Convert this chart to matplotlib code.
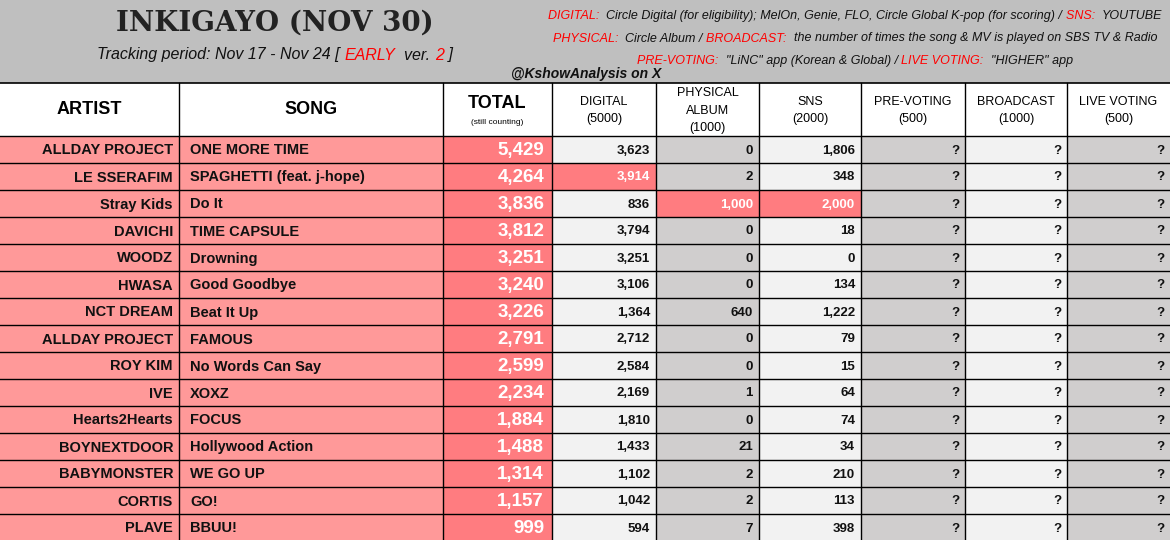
import matplotlib
matplotlib.use("Agg")
import matplotlib.pyplot as plt
from matplotlib.patches import Rectangle

artists = ["ALLDAY PROJECT", "LE SSERAFIM", "Stray Kids", "DAVICHI", "WOODZ", "HWASA",
           "NCT DREAM", "ALLDAY PROJECT", "ROY KIM", "IVE", "Hearts2Hearts", "BOYNEXTDOOR",
           "BABYMONSTER", "CORTIS", "PLAVE"]
songs = ["ONE MORE TIME", "SPAGHETTI (feat. j-hope)", "Do It", "TIME CAPSULE", "Drowning",
         "Good Goodbye", "Beat It Up", "FAMOUS", "No Words Can Say", "XOXZ", "FOCUS",
         "Hollywood Action", "WE GO UP", "GO!", "BBUU!"]
total = [5429, 4264, 3836, 3812, 3251, 3240, 3226, 2791, 2599, 2234, 1884, 1488, 1314, 1157, 999]
digital = [3623, 3914, 836, 3794, 3251, 3106, 1364, 2712, 2584, 2169, 1810, 1433, 1102, 1042, 594]
physical = [0, 2, 1000, 0, 0, 0, 640, 0, 0, 1, 0, 21, 2, 2, 7]
sns = [1806, 348, 2000, 18, 0, 134, 1222, 79, 15, 64, 74, 34, 210, 113, 398]
# cells that got the max score for the category (highlighted)
highlight = {(1, "digital"), (2, "physical"), (2, "sns")}

cols = [0, 179, 443, 552, 656, 759, 861, 965, 1067, 1170]
top, hh, rh = 83, 53, 27

fig = plt.figure(figsize=(11.7, 5.4), dpi=100)
ax = fig.add_axes([0, 0, 1, 1])
ax.set_xlim(0, 1170)
ax.set_ylim(540, 0)
ax.axis("off")
fig.patch.set_facecolor("#BFBFBF")

FONT = "Liberation Sans"
RED = "#FF0000"
BLK = "#111111"
PINK = "#FF9999"
DPINK = "#FF7C80"
LG = "#F2F2F2"
DG = "#D0CECE"

fig.canvas.draw()
rend = fig.canvas.get_renderer()
inv = ax.transData.inverted()


def chain(parts, cx, y, size, **kw):
    objs = [ax.text(0, y, s, fontsize=size, style="italic", fontfamily=FONT,
                    ha="left", va="center", color=c, **kw) for s, c in parts]
    widths = []
    for o in objs:
        bb = o.get_window_extent(rend)
        widths.append(inv.transform((bb.x1, 0))[0] - inv.transform((bb.x0, 0))[0])
    x = cx - sum(widths) / 2
    for o, w in zip(objs, widths):
        o.set_x(x)
        x += w


# title area
ax.text(275, 23, "INKIGAYO (NOV 30)", fontsize=20, fontfamily="DejaVu Serif",
        fontweight="bold", ha="center", va="center", color="#222222")
chain([("Tracking period: Nov 17 - Nov 24 [ ", BLK), ("EARLY", RED), ("  ver. ", BLK),
       ("2", RED), (" ]", BLK)], 275, 55, 11.5)
ax.text(511, 74, "@KshowAnalysis on X", fontsize=10, style="italic", fontweight="bold",
        fontfamily=FONT, ha="left", va="center", color=BLK)

info = [
    [("DIGITAL:  ", RED), ("Circle Digital (for eligibility); MelOn, Genie, FLO, Circle Global K-pop (for scoring) / ", BLK),
     ("SNS:  ", RED), ("YOUTUBE", BLK)],
    [("PHYSICAL:  ", RED), ("Circle Album / ", BLK), ("BROADCAST:  ", RED),
     ("the number of times the song & MV is played on SBS TV & Radio", BLK)],
    [("PRE-VOTING:  ", RED), ('"LiNC" app (Korean & Global) / ', BLK), ("LIVE VOTING:  ", RED),
     ('"HIGHER" app', BLK)],
]
for i, parts in enumerate(info):
    chain(parts, 855, 16 + i * 22.5, 9)

# header row
ax.add_patch(Rectangle((0, top), 1170, hh, facecolor="white", edgecolor="none"))
heads = ["ARTIST", "SONG", None, "DIGITAL\n(5000)", "PHYSICAL\nALBUM\n(1000)", "SNS\n(2000)",
         "PRE-VOTING\n(500)", "BROADCAST\n(1000)", "LIVE VOTING\n(500)"]
for j, h in enumerate(heads):
    cx = (cols[j] + cols[j + 1]) / 2
    if h is None:
        ax.text(cx, top + 20, "TOTAL", fontsize=13, fontweight="bold", fontfamily=FONT, ha="center", va="center")
        ax.text(cx, top + 39, "(still counting)", fontsize=6, fontfamily=FONT, ha="center", va="center")
    elif j < 2:
        ax.text(cx, top + hh / 2, h, fontsize=13, fontweight="bold", fontfamily=FONT, ha="center", va="center")
    else:
        ax.text(cx, top + hh / 2 + 1, h, fontsize=9, fontfamily=FONT, ha="center", va="center", linespacing=1.6)

bgs = [PINK, PINK, DPINK, LG, DG, LG, DG, LG, DG]
for i in range(len(artists)):
    y0 = top + hh + i * rh
    yc = y0 + rh / 2 + 1
    vals = [artists[i], songs[i], f"{total[i]:,}", f"{digital[i]:,}", f"{physical[i]:,}",
            f"{sns[i]:,}", "?", "?", "?"]
    keys = [None, None, None, "digital", "physical", "sns", None, None, None]
    for j, v in enumerate(vals):
        bg = bgs[j]
        tc = BLK
        if keys[j] and (i, keys[j]) in highlight:
            bg, tc = DPINK, "white"
        if j == 2:
            tc = "white"
        ax.add_patch(Rectangle((cols[j], y0), cols[j + 1] - cols[j], rh, facecolor=bg, edgecolor="none"))
        if j == 1:
            ax.text(cols[j] + 11, yc, v, fontsize=10.5, fontweight="bold", fontfamily=FONT,
                    ha="left", va="center", color=tc)
        elif j == 2:
            ax.text(cols[j + 1] - 8, yc, v, fontsize=13.5, fontweight="bold", fontfamily=FONT,
                    ha="right", va="center", color=tc)
        else:
            ax.text(cols[j + 1] - 6, yc, v, fontsize=10.5 if j == 0 else 9.5, fontweight="bold",
                    fontfamily=FONT, ha="right", va="center", color=tc)

# grid lines
bottom = top + hh + len(artists) * rh
for x in cols[1:-1]:
    ax.plot([x, x], [top, bottom], color="black", lw=1)
for k in range(len(artists) + 1):
    y = top + hh + k * rh
    ax.plot([0, 1170], [y, y], color="black", lw=1)
ax.plot([0, 1170], [top, top], color="black", lw=1.2)

fig.savefig("out.png", dpi=100, facecolor=fig.get_facecolor())
